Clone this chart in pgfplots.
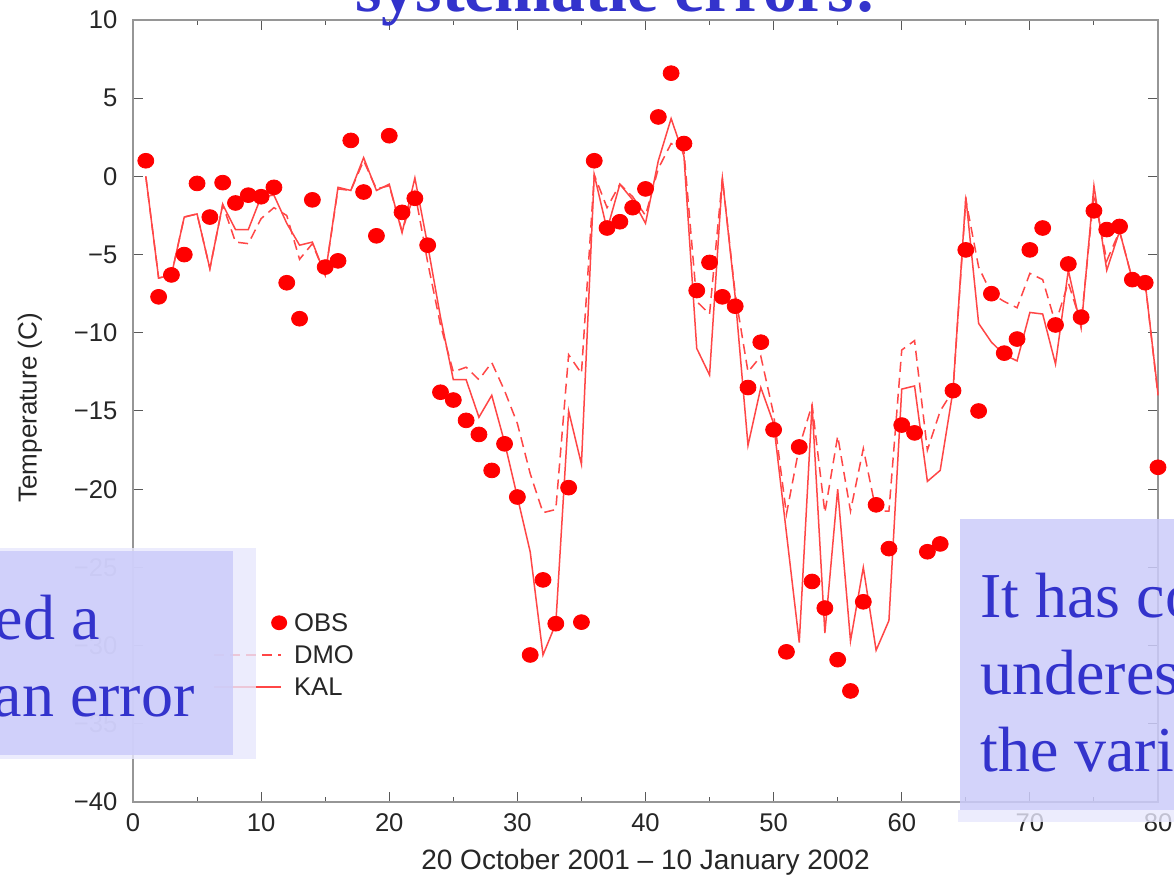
\documentclass[border=0pt]{standalone}
\usepackage{fontspec}
\setmainfont{Liberation Sans}
\newfontfamily\tnr{Liberation Serif}
\usepackage{pgfplots}
\usepackage{pgfplotstable}
\pgfplotsset{compat=1.18}
\definecolor{obsred}{RGB}{255,0,0}
\definecolor{linered}{RGB}{255,70,70}
\definecolor{slideblue}{RGB}{51,51,204}
\definecolor{boxfill}{RGB}{204,204,250}
\definecolor{axgray}{RGB}{150,150,150}

\pgfplotsset{
  myleglines/.style={legend image code/.code={\draw[##1] (0pt,0pt) -- (33.5pt,0pt); \path[draw=none,fill=none] (0pt,0pt) -- (40pt,0pt);}},
  mylegmark/.style={legend image code/.code={\path[draw=none,fill=none] (0pt,0pt) -- (40pt,0pt); \fill[obsred, draw=none] (32.5pt,0pt) ellipse[x radius=4pt, y radius=3.7pt];}},
}

\pgfplotstableread{
x obs kal dmo
1 1.0 0.0 0.0
2 -7.7 -6.5 -6.5
3 -6.3 -6.3 -6.3
4 -5.0 -2.6 -2.6
5 -0.45 -2.4 -2.4
6 -2.6 -5.9 -5.9
7 -0.4 -1.8 -1.8
8 -1.7 -3.4 -4.2
9 -1.2 -3.4 -4.3
10 -1.3 -1.3 -2.7
11 -0.7 -1.2 -2.0
12 -6.8 -3.0 -2.5
13 -9.1 -4.4 -5.3
14 -1.5 -4.2 -4.3
15 -5.8 -6.3 -6.3
16 -5.4 -0.7 -0.8
17 2.3 -0.9 -0.9
18 -1.0 1.2 1.0
19 -3.8 -0.9 -0.8
20 2.6 -0.5 -0.6
21 -2.3 -3.6 -3.5
22 -1.4 -0.1 -1.0
23 -4.4 -4.4 -5.5
24 -13.8 -9.0 -9.5
25 -14.3 -13.0 -12.5
26 -15.6 -13.0 -12.2
27 -16.5 -15.4 -13.0
28 -18.8 -14.0 -11.9
29 -17.1 -17.0 -13.7
30 -20.5 -20.5 -15.8
31 -30.6 -24.0 -19.0
32 -25.8 -30.6 -21.5
33 -28.6 -28.6 -21.3
34 -19.9 -15.0 -11.4
35 -28.5 -18.4 -12.6
36 1.0 0.1 0.1
37 -3.3 -3.4 -2.0
38 -2.9 -0.5 -0.5
39 -2.0 -1.5 -1.3
40 -0.8 -3.0 -2.5
41 3.8 1.0 0.5
42 6.6 3.7 2.1
43 2.1 1.3 1.6
44 -7.3 -11.0 -8.0
45 -5.5 -12.7 -8.8
46 -7.7 -0.1 -0.1
47 -8.3 -7.7 -7.5
48 -13.5 -17.2 -12.5
49 -10.6 -13.5 -11.5
50 -16.2 -15.8 -15.2
51 -30.4 -22.8 -21.6
52 -17.3 -29.8 -17.3
53 -25.9 -14.6 -14.6
54 -27.6 -29.2 -21.5
55 -30.9 -20.0 -16.6
56 -32.9 -29.7 -21.4
57 -27.2 -25.0 -17.4
58 -21.0 -30.3 -21.4
59 -23.8 -28.4 -21.4
60 -15.9 -13.6 -11.1
61 -16.4 -13.4 -10.5
62 -24.0 -19.5 -17.5
63 -23.5 -18.8 -15.0
64 -13.7 -13.7 -13.7
65 -4.7 -1.3 -1.5
66 -15.0 -9.4 -5.8
67 -7.5 -10.6 -7.5
68 -11.3 -11.4 -8.0
69 -10.4 -11.8 -8.4
70 -4.7 -8.7 -6.2
71 -3.3 -8.8 -6.6
72 -9.5 -12.0 -9.4
73 -5.6 -6.0 -6.8
74 -9.0 -9.7 -9.4
75 -2.2 -0.6 -1.1
76 -3.4 -6.0 -5.4
77 -3.2 -3.5 -3.5
78 -6.6 -6.6 -6.6
79 -6.8 -6.8 -6.8
80 -18.6 -13.9 -14.0
}\datatable

\begin{document}
\begin{tikzpicture}[font=\fontsize{12.5}{14}\selectfont]
\fill[white] (-66.5pt,-37.5pt) rectangle (520.5pt,401pt);
\begin{axis}[
  scale only axis, width=512.5pt, height=391pt,
  at={(0,0)}, anchor=south west,
  xmin=0, xmax=80, ymin=-40, ymax=10,
  clip=false,
  xtick={0,10,...,80}, minor xtick={5,15,...,75},
  xticklabels={0,10,20,30,40,50,60,70,80},
  ytick={-40,-35,...,10},
  yticklabels={−40,−35,−30,−25,−20,−15,−10,−5,0,5,10},
  tick align=inside,
  major tick length=5pt, minor tick length=2.5pt,
  axis line style={axgray, line width=0.6pt},
  tick style={black!65, line width=0.5pt},
  every tick label/.append style={text=black!85, font=\fontsize{12.8}{14}\selectfont},
  xticklabel style={yshift=-2.3pt},
  yticklabel style={xshift=-4.3pt},
  xlabel={20 October 2001 – 10 January 2002},
  ylabel={Temperature (C)},
  xlabel style={at={(axis description cs:0.5,-0.0767)}, anchor=center, text=black!85, font=\fontsize{14}{16}\selectfont},
  ylabel style={at={(axis description cs:-0.1005,0.504)}, anchor=center, text=black!85, font=\fontsize{13}{15}\selectfont},
  reverse legend,
  legend style={draw=none, fill=none, inner sep=0pt,
    at={(axis cs:6.245,-27.94)}, anchor=north west,
    row sep=7pt,
    nodes={inner sep=0pt, text height=9pt, text depth=0pt, text=black!85, font=\fontsize{12.8}{14}\selectfont}},
  legend cell align=left,
]
\addplot[linered, line width=0.75pt, myleglines]
  table[x=x, y=kal] {\datatable};
\addlegendentry{KAL}
\addplot[linered, line width=0.75pt, dash pattern=on 5pt off 3pt, myleglines]
  table[x=x, y=dmo] {\datatable};
\addlegendentry{DMO}
\addplot[only marks, mark=*, mark size=3.7pt, color=obsred,
  mark options={xscale=1.08, draw=obsred, fill=obsred}, mylegmark]
  table[x=x, y=obs] {\datatable};
\addlegendentry{OBS}
\end{axis}

\begin{scope}[x=0.5pt, y=-0.5pt, shift={(-66.5pt,401pt)}]
  \node[font=\tnr\bfseries\fontsize{34}{40}\selectfont, text=slideblue, anchor=base, inner sep=0pt]
    at (616,12) {systematic errors:};
  \fill[boxfill!45, opacity=0.8] (-10,548) rectangle (256,759);
  \fill[boxfill, opacity=0.85] (-10,551) rectangle (233,755);
  \node[font=\tnr\fontsize{32}{38}\selectfont, text=slideblue, anchor=base east, inner sep=0pt]
    at (100,640) {ed a};
  \node[font=\tnr\fontsize{32}{38}\selectfont, text=slideblue, anchor=base east, inner sep=0pt]
    at (195,717) {an error};
  \fill[boxfill!45, opacity=0.8] (958,810) rectangle (1185,822);
  \fill[boxfill, opacity=0.85] (960,519) rectangle (1185,810);
  \node[font=\tnr\fontsize{32}{38}\selectfont, text=slideblue, anchor=base west, inner sep=0pt]
    at (980,618) {It has co};
  \node[font=\tnr\fontsize{32}{38}\selectfont, text=slideblue, anchor=base west, inner sep=0pt]
    at (980,695) {underes};
  \node[font=\tnr\fontsize{32}{38}\selectfont, text=slideblue, anchor=base west, inner sep=0pt]
    at (980,772) {the vari};
\end{scope}
\pgfresetboundingbox
\path[use as bounding box] (-66.5pt,-37.5pt) rectangle (520.5pt,401pt);
\end{tikzpicture}
\end{document}
